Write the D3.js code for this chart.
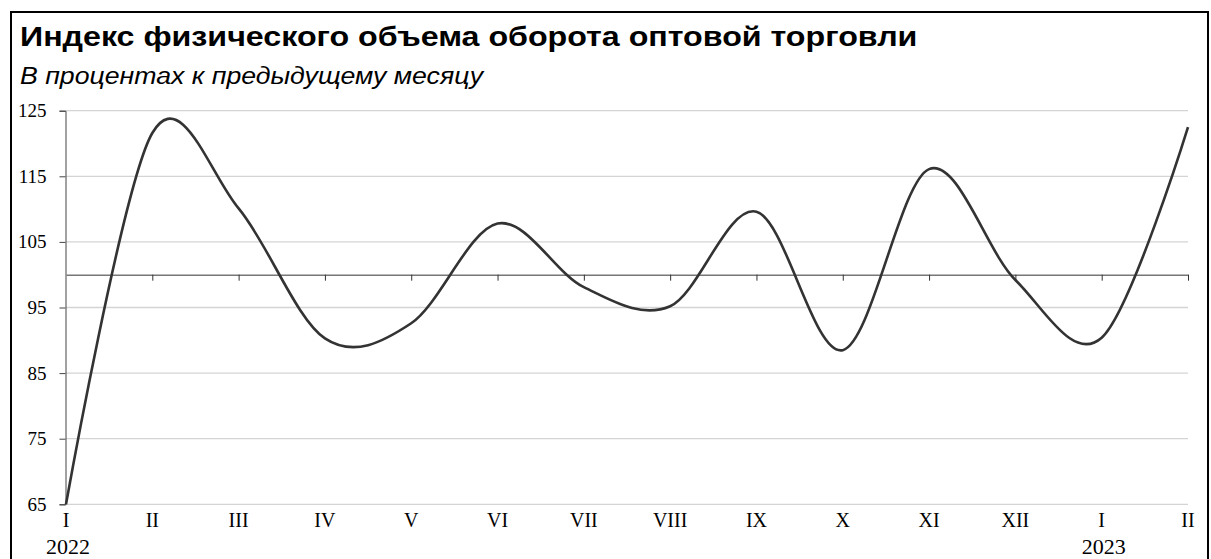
<!DOCTYPE html>
<html>
<head>
<meta charset="utf-8">
<script src="https://cdn.jsdelivr.net/npm/d3@7"></script>
<style>
  body { margin: 0; background: #fff; }
  svg { display: block; }
</style>
</head>
<body>
<div id="chart"></div>
<script>
// Month labels (roman numerals), year labels under some of them
var months = ["I", "II", "III", "IV", "V", "VI", "VII", "VIII", "IX", "X", "XI", "XII", "I", "II"];
var years = {0: "2022", 12: "2023"};
// Index of wholesale turnover, % to previous month
var values = [65.0, 121.6, 110.1, 90.3, 92.6, 107.8, 98.1, 95.2, 109.6, 88.5, 116.1, 99.2, 90.4, 122.5];
var yTicks = [65, 75, 85, 95, 105, 115, 125];

var width = 1211, height = 559;

var svg = d3.select("#chart").append("svg")
    .attr("width", width)
    .attr("height", height);

// Frame round the chart (bottom edge runs off the picture)
svg.append("rect")
    .attr("x", 11).attr("y", 12)
    .attr("width", 1197).attr("height", 600)
    .attr("fill", "none")
    .attr("stroke", "#000")
    .attr("stroke-width", 2);

// Title and subtitle (the original text is a bit stretched sideways)
svg.append("text")
    .attr("transform", "translate(20,46) scale(1.15,1)")
    .style("font-family", "'Liberation Sans', Arial, sans-serif")
    .style("font-weight", "bold")
    .style("font-size", "28px")
    .text("Индекс физического объема оборота оптовой торговли");

svg.append("text")
    .attr("transform", "translate(20,84) scale(1.16,1)")
    .style("font-family", "'Liberation Sans', Arial, sans-serif")
    .style("font-style", "italic")
    .style("font-size", "23px")
    .text("В процентах к предыдущему месяцу");

// Scales
var x = d3.scalePoint().domain(d3.range(months.length)).range([66, 1188]);
var y = d3.scaleLinear().domain([65, 125]).range([504.3, 110.7]);

// Horizontal gridlines
svg.append("g").selectAll("line")
    .data(yTicks)
    .enter().append("line")
    .attr("x1", 66).attr("x2", 1188)
    .attr("y1", function(d) { return y(d); })
    .attr("y2", function(d) { return y(d); })
    .attr("stroke", "#d4d4d4")
    .attr("stroke-width", 1.3);

// Y axis with labels
var yAxis = svg.append("g")
    .attr("transform", "translate(65.5,0)")
    .call(d3.axisLeft(y).tickValues(yTicks).tickSize(6).tickPadding(13));
yAxis.select(".domain").attr("stroke", "#444");
yAxis.selectAll(".tick line").attr("stroke", "#444");
yAxis.selectAll(".tick text")
    .style("font-family", "'Liberation Serif', 'Times New Roman', serif")
    .style("font-size", "19px")
    .attr("fill", "#000");

// Category axis sitting on the 100 line, ticks pointing down
var xAxis = svg.append("g")
    .attr("transform", "translate(0," + y(100) + ")")
    .call(d3.axisBottom(x).tickSize(6).tickSizeOuter(0).tickFormat(""));
xAxis.select(".domain").attr("stroke", "#777").attr("stroke-width", 1.6);
xAxis.selectAll(".tick line").attr("stroke", "#333");
// first tick coincides with the y axis, hide it
xAxis.selectAll(".tick").filter(function(d) { return d === 0; }).remove();

// Month labels at the bottom
svg.append("g").selectAll("text")
    .data(months)
    .enter().append("text")
    .attr("x", function(d, i) { return x(i); })
    .attr("y", 527)
    .attr("text-anchor", "middle")
    .style("font-family", "'Liberation Serif', 'Times New Roman', serif")
    .style("font-size", "20px")
    .text(function(d) { return d; });

// Year labels
svg.append("g").selectAll("text")
    .data(Object.keys(years))
    .enter().append("text")
    .attr("x", function(d) { return x(+d) + 2; })
    .attr("y", 554)
    .attr("text-anchor", "middle")
    .style("font-family", "'Liberation Serif', 'Times New Roman', serif")
    .style("font-size", "22px")
    .text(function(d) { return years[d]; });

// Smoothed line (Excel-like smoothing)
var line = d3.line()
    .x(function(d, i) { return x(i); })
    .y(function(d) { return y(d); })
    .curve(d3.curveCardinal.tension(0));

svg.append("path")
    .datum(values)
    .attr("d", line)
    .attr("fill", "none")
    .attr("stroke", "#333")
    .attr("stroke-width", 2.6)
    .attr("stroke-linejoin", "round");
</script>
</body>
</html>
